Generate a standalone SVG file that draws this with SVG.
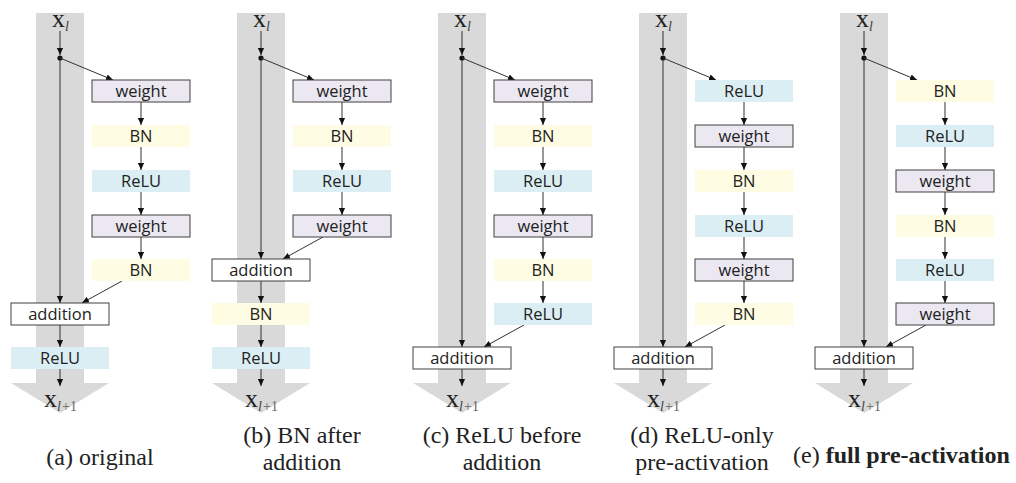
<svg xmlns="http://www.w3.org/2000/svg" width="1016" height="483" viewBox="0 0 1016 483">
<style>
.band{fill:#d9d9d9}
.w{fill:#ebe8f1;stroke:#404040;stroke-width:1}
.add{fill:#ffffff;stroke:#404040;stroke-width:1}
.bn{fill:#fefde3}
.relu{fill:#dbeef4}
.lbl{font-family:"Open Sans","Liberation Sans",sans-serif;font-size:16.5px;fill:#222;text-anchor:middle}
.x{font-family:"Liberation Serif",serif;font-size:26px;fill:#222}
.sub{font-family:"Liberation Serif",serif;font-size:14px;font-style:italic;fill:#444}
.sub1{font-family:"Liberation Serif",serif;font-size:14px;fill:#666}
.cap{font-family:"Liberation Serif",serif;font-size:24px;fill:#222;text-anchor:middle}
.ln{stroke:#333;stroke-width:1;fill:none;marker-end:url(#ah)}
</style>
<defs>
<marker id="ah" viewBox="0 0 8 8" refX="8" refY="4" markerWidth="7" markerHeight="7" markerUnits="userSpaceOnUse" orient="auto">
<path d="M0,0.5 L8,4 L0,7.5 z" fill="#111"/>
</marker>
</defs>

<!-- bands -->
<g id="bands">
<polygon class="band" points="36,13 84,13 84,383 109,383 60,413 11,383 36,383"/>
<polygon class="band" points="237,13 285,13 285,383 310,383 261,413 212,383 237,383"/>
<polygon class="band" points="438,13 486,13 486,383 511,383 462,413 413,383 438,383"/>
<polygon class="band" points="639,13 687,13 687,383 712,383 663,413 614,383 639,383"/>
<polygon class="band" points="840,13 888,13 888,383 913,383 864,413 815,383 840,383"/>
</g>

<!-- x labels -->
<g id="xin">
<text class="x" x="52" y="27">x</text><text class="sub" x="65" y="31">l</text>
<text class="x" x="253" y="27">x</text><text class="sub" x="266" y="31">l</text>
<text class="x" x="454" y="27">x</text><text class="sub" x="467" y="31">l</text>
<text class="x" x="655" y="27">x</text><text class="sub" x="668" y="31">l</text>
<text class="x" x="856" y="27">x</text><text class="sub" x="869" y="31">l</text>
</g>
<g id="xout">
<text class="x" x="44" y="407">x</text><text class="sub" x="57" y="411">l</text><text class="sub1" x="62" y="411">+1</text>
<text class="x" x="245" y="407">x</text><text class="sub" x="258" y="411">l</text><text class="sub1" x="263" y="411">+1</text>
<text class="x" x="446" y="407">x</text><text class="sub" x="459" y="411">l</text><text class="sub1" x="464" y="411">+1</text>
<text class="x" x="647" y="407">x</text><text class="sub" x="660" y="411">l</text><text class="sub1" x="665" y="411">+1</text>
<text class="x" x="848" y="407">x</text><text class="sub" x="861" y="411">l</text><text class="sub1" x="866" y="411">+1</text>
</g>

<!-- connectors -->
<g id="connectors">
<!-- a -->
<line class="ln" x1="60" y1="31" x2="60" y2="55"/>
<circle cx="60" cy="58" r="2.6" fill="#111"/>
<line class="ln" x1="60" y1="60" x2="60" y2="303"/>
<line class="ln" x1="60" y1="58" x2="113" y2="80"/>
<line class="ln" x1="141" y1="102" x2="141" y2="125"/>
<line class="ln" x1="141" y1="147" x2="141" y2="170"/>
<line class="ln" x1="141" y1="192" x2="141" y2="215"/>
<line class="ln" x1="141" y1="237" x2="141" y2="259"/>
<line class="ln" x1="122" y1="281" x2="82" y2="303"/>
<line class="ln" x1="60" y1="325" x2="60" y2="347"/>
<line class="ln" x1="60" y1="369" x2="60" y2="386"/>
<!-- b -->
<line class="ln" x1="261" y1="31" x2="261" y2="55"/>
<circle cx="261" cy="58" r="2.6" fill="#111"/>
<line class="ln" x1="261" y1="60" x2="261" y2="259"/>
<line class="ln" x1="261" y1="58" x2="314" y2="80"/>
<line class="ln" x1="342" y1="102" x2="342" y2="125"/>
<line class="ln" x1="342" y1="147" x2="342" y2="170"/>
<line class="ln" x1="342" y1="192" x2="342" y2="215"/>
<line class="ln" x1="323" y1="237" x2="283" y2="259"/>
<line class="ln" x1="261" y1="281" x2="261" y2="303"/>
<line class="ln" x1="261" y1="325" x2="261" y2="347"/>
<line class="ln" x1="261" y1="369" x2="261" y2="386"/>
<!-- c -->
<line class="ln" x1="462" y1="31" x2="462" y2="55"/>
<circle cx="462" cy="58" r="2.6" fill="#111"/>
<line class="ln" x1="462" y1="60" x2="462" y2="347"/>
<line class="ln" x1="462" y1="58" x2="515" y2="80"/>
<line class="ln" x1="543" y1="102" x2="543" y2="125"/>
<line class="ln" x1="543" y1="147" x2="543" y2="170"/>
<line class="ln" x1="543" y1="192" x2="543" y2="215"/>
<line class="ln" x1="543" y1="237" x2="543" y2="259"/>
<line class="ln" x1="543" y1="281" x2="543" y2="303"/>
<line class="ln" x1="524" y1="325" x2="484" y2="347"/>
<line class="ln" x1="462" y1="369" x2="462" y2="386"/>
<!-- d -->
<line class="ln" x1="663" y1="31" x2="663" y2="55"/>
<circle cx="663" cy="58" r="2.6" fill="#111"/>
<line class="ln" x1="663" y1="60" x2="663" y2="347"/>
<line class="ln" x1="663" y1="58" x2="716" y2="80"/>
<line class="ln" x1="744" y1="102" x2="744" y2="125"/>
<line class="ln" x1="744" y1="147" x2="744" y2="170"/>
<line class="ln" x1="744" y1="192" x2="744" y2="215"/>
<line class="ln" x1="744" y1="237" x2="744" y2="259"/>
<line class="ln" x1="744" y1="281" x2="744" y2="303"/>
<line class="ln" x1="725" y1="325" x2="685" y2="347"/>
<line class="ln" x1="663" y1="369" x2="663" y2="386"/>
<!-- e -->
<line class="ln" x1="864" y1="31" x2="864" y2="55"/>
<circle cx="864" cy="58" r="2.6" fill="#111"/>
<line class="ln" x1="864" y1="60" x2="864" y2="347"/>
<line class="ln" x1="864" y1="58" x2="917" y2="80"/>
<line class="ln" x1="945" y1="102" x2="945" y2="125"/>
<line class="ln" x1="945" y1="147" x2="945" y2="170"/>
<line class="ln" x1="945" y1="192" x2="945" y2="215"/>
<line class="ln" x1="945" y1="237" x2="945" y2="259"/>
<line class="ln" x1="945" y1="281" x2="945" y2="303"/>
<line class="ln" x1="926" y1="325" x2="886" y2="347"/>
<line class="ln" x1="864" y1="369" x2="864" y2="386"/>
</g>

<!-- column a nodes -->
<g id="a-weight1"><rect class="w" x="92" y="80" width="98" height="22"/><text class="lbl" x="141" y="97">weight</text></g>
<g id="a-bn1"><rect class="bn" x="92" y="125" width="98" height="22"/><text class="lbl" x="141" y="142">BN</text></g>
<g id="a-relu1"><rect class="relu" x="92" y="170" width="98" height="22"/><text class="lbl" x="141" y="187">ReLU</text></g>
<g id="a-weight2"><rect class="w" x="92" y="215" width="98" height="22"/><text class="lbl" x="141" y="232">weight</text></g>
<g id="a-bn2"><rect class="bn" x="92" y="259" width="98" height="22"/><text class="lbl" x="141" y="276">BN</text></g>
<g id="a-addition"><rect class="add" x="11" y="303" width="98" height="22"/><text class="lbl" x="60" y="320">addition</text></g>
<g id="a-relu2"><rect class="relu" x="11" y="347" width="98" height="22"/><text class="lbl" x="60" y="364">ReLU</text></g>

<!-- column b nodes -->
<g id="b-weight1"><rect class="w" x="293" y="80" width="98" height="22"/><text class="lbl" x="342" y="97">weight</text></g>
<g id="b-bn1"><rect class="bn" x="293" y="125" width="98" height="22"/><text class="lbl" x="342" y="142">BN</text></g>
<g id="b-relu1"><rect class="relu" x="293" y="170" width="98" height="22"/><text class="lbl" x="342" y="187">ReLU</text></g>
<g id="b-weight2"><rect class="w" x="293" y="215" width="98" height="22"/><text class="lbl" x="342" y="232">weight</text></g>
<g id="b-addition"><rect class="add" x="212" y="259" width="98" height="22"/><text class="lbl" x="261" y="276">addition</text></g>
<g id="b-bn2"><rect class="bn" x="212" y="303" width="98" height="22"/><text class="lbl" x="261" y="320">BN</text></g>
<g id="b-relu2"><rect class="relu" x="212" y="347" width="98" height="22"/><text class="lbl" x="261" y="364">ReLU</text></g>

<!-- column c nodes -->
<g id="c-weight1"><rect class="w" x="494" y="80" width="98" height="22"/><text class="lbl" x="543" y="97">weight</text></g>
<g id="c-bn1"><rect class="bn" x="494" y="125" width="98" height="22"/><text class="lbl" x="543" y="142">BN</text></g>
<g id="c-relu1"><rect class="relu" x="494" y="170" width="98" height="22"/><text class="lbl" x="543" y="187">ReLU</text></g>
<g id="c-weight2"><rect class="w" x="494" y="215" width="98" height="22"/><text class="lbl" x="543" y="232">weight</text></g>
<g id="c-bn2"><rect class="bn" x="494" y="259" width="98" height="22"/><text class="lbl" x="543" y="276">BN</text></g>
<g id="c-relu2"><rect class="relu" x="494" y="303" width="98" height="22"/><text class="lbl" x="543" y="320">ReLU</text></g>
<g id="c-addition"><rect class="add" x="413" y="347" width="98" height="22"/><text class="lbl" x="462" y="364">addition</text></g>

<!-- column d nodes -->
<g id="d-relu1"><rect class="relu" x="695" y="80" width="98" height="22"/><text class="lbl" x="744" y="97">ReLU</text></g>
<g id="d-weight1"><rect class="w" x="695" y="125" width="98" height="22"/><text class="lbl" x="744" y="142">weight</text></g>
<g id="d-bn1"><rect class="bn" x="695" y="170" width="98" height="22"/><text class="lbl" x="744" y="187">BN</text></g>
<g id="d-relu2"><rect class="relu" x="695" y="215" width="98" height="22"/><text class="lbl" x="744" y="232">ReLU</text></g>
<g id="d-weight2"><rect class="w" x="695" y="259" width="98" height="22"/><text class="lbl" x="744" y="276">weight</text></g>
<g id="d-bn2"><rect class="bn" x="695" y="303" width="98" height="22"/><text class="lbl" x="744" y="320">BN</text></g>
<g id="d-addition"><rect class="add" x="614" y="347" width="98" height="22"/><text class="lbl" x="663" y="364">addition</text></g>

<!-- column e nodes -->
<g id="e-bn1"><rect class="bn" x="896" y="80" width="98" height="22"/><text class="lbl" x="945" y="97">BN</text></g>
<g id="e-relu1"><rect class="relu" x="896" y="125" width="98" height="22"/><text class="lbl" x="945" y="142">ReLU</text></g>
<g id="e-weight1"><rect class="w" x="896" y="170" width="98" height="22"/><text class="lbl" x="945" y="187">weight</text></g>
<g id="e-bn2"><rect class="bn" x="896" y="215" width="98" height="22"/><text class="lbl" x="945" y="232">BN</text></g>
<g id="e-relu2"><rect class="relu" x="896" y="259" width="98" height="22"/><text class="lbl" x="945" y="276">ReLU</text></g>
<g id="e-weight2"><rect class="w" x="896" y="303" width="98" height="22"/><text class="lbl" x="945" y="320">weight</text></g>
<g id="e-addition"><rect class="add" x="815" y="347" width="98" height="22"/><text class="lbl" x="864" y="364">addition</text></g>

<!-- captions -->
<g id="captions">
<text class="cap" x="100" y="465">(a) original</text>
<text class="cap" x="302" y="443">(b) BN after</text>
<text class="cap" x="302" y="470">addition</text>
<text class="cap" x="502" y="443">(c) ReLU before</text>
<text class="cap" x="502" y="470">addition</text>
<text class="cap" x="702" y="443">(d) ReLU-only</text>
<text class="cap" x="702" y="470">pre-activation</text>
<text class="cap" x="793" y="463" style="text-anchor:start">(e) <tspan font-weight="bold">full pre-activation</tspan></text>
</g>
</svg>
